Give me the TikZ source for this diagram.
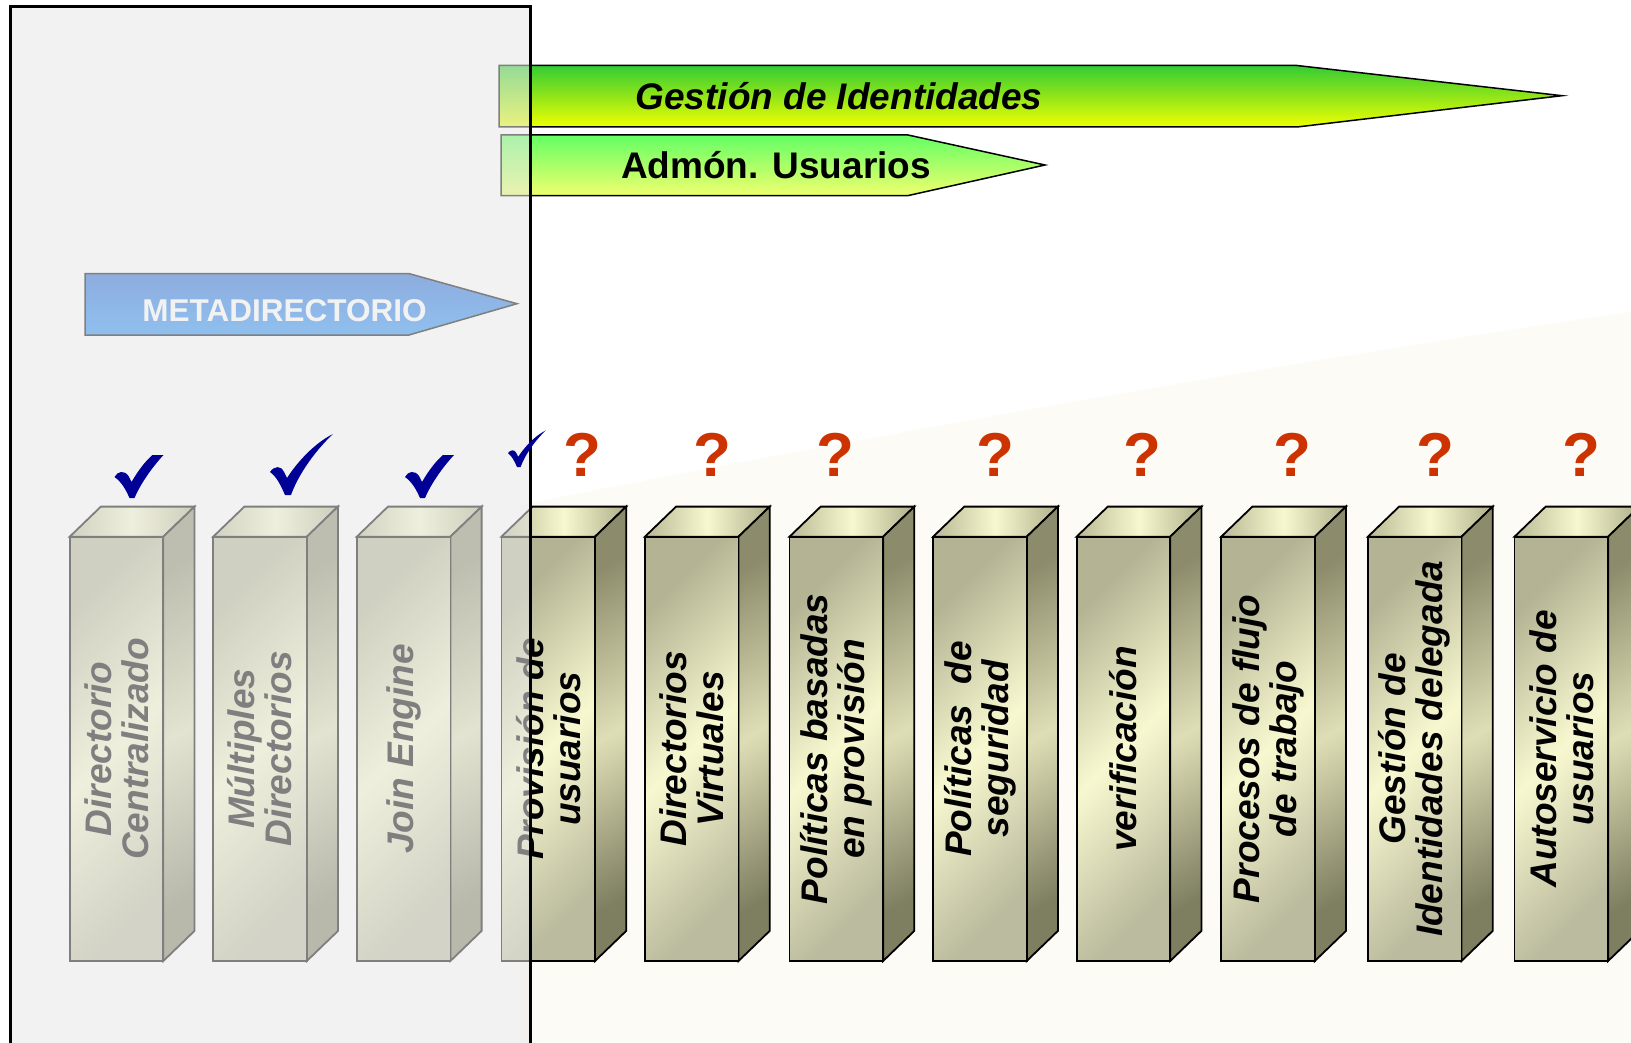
\documentclass[tikz,border=0pt]{standalone}
\usepackage{fontspec}
\setmainfont{Liberation Sans}
\usepackage{tikz}
\usetikzlibrary{positioning,calc}
\definecolor{checkblue}{RGB}{0,0,150}
\definecolor{qred}{RGB}{204,51,0}
\definecolor{pillarlight}{RGB}{248,248,208}
\definecolor{pillarmid}{RGB}{180,180,148}
\definecolor{pillardark}{RGB}{140,140,108}
\definecolor{cream}{RGB}{252,251,246}

\begin{document}
\begin{tikzpicture}[x=1pt,y=-1pt,
	% Flechas de la parte superior
	band/.style={draw=black, line width=1.5pt},
	% Caras de cada pilar
	pillar_front/.style={draw=black, line width=1.8pt,
		top color=pillarmid, bottom color=pillarmid!90!white, middle color=pillarlight, shading angle=45},
	pillar_side/.style={draw=black, line width=1.8pt,
		top color=pillardark, bottom color=pillardark!90!black, middle color={rgb,255:red,222;green,222;blue,182}, shading angle=30},
	pillar_top/.style={draw=black, line width=1.8pt,
		left color={rgb,255:red,185;green,185;blue,148}, right color={rgb,255:red,175;green,175;blue,138}, middle color=pillarlight},
	pillar_text/.style={rotate=90, align=center, inner sep=0pt,
		font=\fontsize{37}{37}\selectfont\bfseries\itshape},
	% Marcas de verificación
	tick_flat/.pic={\fill[checkblue] (0,0) .. controls (-4,-9) and (-8,-16) .. (-15,-21)
		.. controls (-12,-27) and (-5,-28) .. (-1,-22) -- (2,-16)
		.. controls (9,-28) and (16,-37) .. (23,-43) -- (34,-43)
		.. controls (22,-30) and (11,-14) .. (5,0) -- cycle;},
	tick_long/.pic={\fill[checkblue] (0,0) .. controls (-4,-9) and (-8,-18) .. (-15,-23)
		.. controls (-11,-29) and (-4,-30) .. (-1,-23) -- (2,-17)
		.. controls (13,-34) and (30,-52) .. (48,-61)
		.. controls (31,-45) and (14,-22) .. (6,0) -- cycle;},
	question/.style={text=qred, inner sep=0pt, font=\fontsize{62}{62}\selectfont\bfseries}
	]
	\useasboundingbox (0,0) rectangle (1631,1043);
	\fill[white] (0,0) rectangle (1631,1043);
	% Fondo claro a la derecha
	\fill[cream] (520,1043) -- (520,505) .. controls (900,430) and (1300,360) .. (1631,312) -- (1631,1043) -- cycle;
	
	% Gestión de Identidades
	\draw[band, top color={rgb,255:red,51;green,204;blue,51}, bottom color={rgb,255:red,240;green,255;blue,0}]
		(499,65.5) -- (1297,65.5) -- (1562,95.7) -- (1297,127) -- (499,127) -- cycle;
	\node[font=\fontsize{37}{40}\selectfont\bfseries\itshape] (gestion) at (839,95.7) {Gestión de Identidades};
	
	% Admón. Usuarios
	\draw[band, top color={rgb,255:red,100;green,255;blue,100}, bottom color={rgb,255:red,240;green,255;blue,110}]
		(501,135) -- (908,135) -- (1045,165) -- (908,195.6) -- (501,195.6) -- cycle;
	\node[font=\fontsize{37}{40}\selectfont\bfseries] (admon) at (776,165) {Admón. Usuarios};
	
	% Metadirectorio
	\draw[band, top color={rgb,255:red,32;green,102;blue,212}, bottom color={rgb,255:red,36;green,143;blue,247}]
		(85,273.6) -- (409,273.6) -- (517,303.7) -- (409,335) -- (85,335) -- cycle;
	\node[text=white, font=\fontsize{31.5}{34}\selectfont\bfseries] (meta) at (284.5,311) {METADIRECTORIO};
	
	% Pilares
	\foreach \x/\txt [count=\i] in {
		69.7/{Directorio\\Centralizado},
		213.2/{Múltiples\\Directorios},
		356.8/{Join Engine},
		501.4/{Provisión de\\usuarios},
		644.9/{Directorios\\Virtuales},
		789.5/{Políticas basadas\\en provisión},
		933.1/{Políticas\ \ de\\seguridad},
		1076.6/{verificación},
		1221.2/{Procesos de flujo\\de trabajo},
		1367.9/{Gestión de\\Identidades delegada},
		1514.5/{Autoservicio de\\usuarios}}{
		\draw[pillar_top] (\x,536.7) -- ++(31.2,-30.1) -- ++(93.6,0) -- ++(-31.2,30.1) -- cycle;
		\draw[pillar_side] (\x+93.6,536.7) -- ++(31.2,-30.1) -- ++(0,424.3) -- ++(-31.2,30.1) -- cycle;
		\draw[pillar_front] (\x,536.7) rectangle ++(93.6,424.3);
		\node[pillar_text] (pillar\i) at (\x+46.8,748.8) {\txt};
	}
	
	% Panel gris semitransparente
	\draw[line width=3pt, fill=black!9, fill opacity=0.55] (10.4,6.2) rectangle (530.5,1060);
	
	% Marcas de verificación
	\pic at (129.5,498) {tick_flat};
	\pic at (285,495) {tick_long};
	\pic at (420,498) {tick_flat};
	\pic[scale=0.6] at (517,467) {tick_long};
	
	% Interrogaciones
	\foreach \qx [count=\j] in {582.5,712.5,835,995.5,1142,1292,1435.5,1581}
		\node[question] (q\j) at (\qx,455) {?};
	
\end{tikzpicture}
\end{document}
